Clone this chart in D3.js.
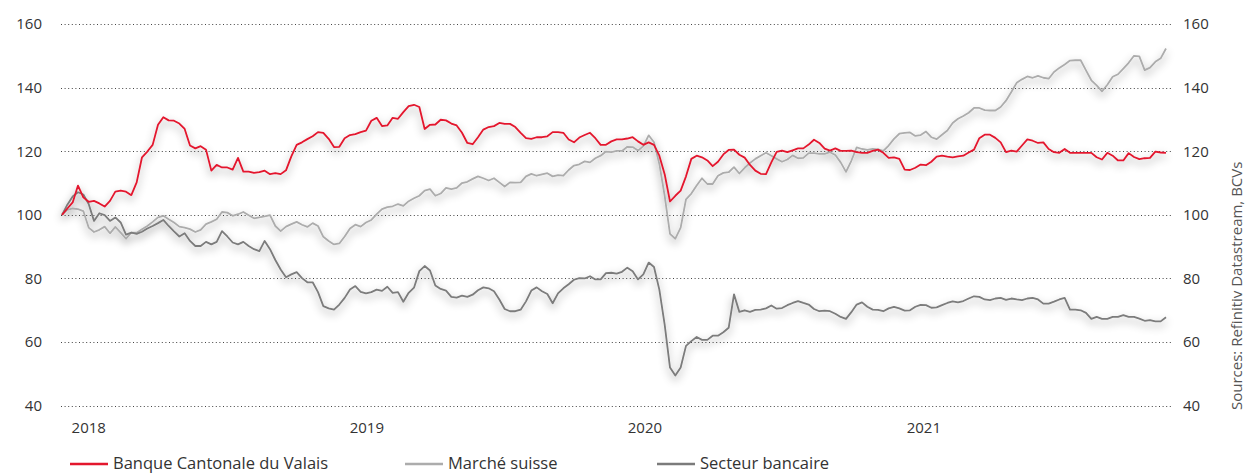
<!DOCTYPE html>
<html>
<head>
<meta charset="utf-8">
<script src="https://cdnjs.cloudflare.com/ajax/libs/d3/7.8.5/d3.min.js"></script>
<style>
  html, body { margin: 0; padding: 0; background: #fff; }
  svg { display: block; font-family: "Open Sans", sans-serif; }
</style>
</head>
<body>
<div id="chart"></div>
<script>
// Weekly index values (base 100), starting end of December 2017
const startDate = new Date(2017, 11, 22);

const bcvValues = [
  100, 102, 103.9, 109.2, 105.5, 104.1, 104.4, 103.6, 102.6, 104.4,
  107.3, 107.6, 107.3, 106.2, 110.2, 118.1, 119.9, 122, 128.3, 130.7,
  129.7, 129.6, 128.7, 127, 121.8, 120.9, 121.6, 120.5, 113.9, 115.7,
  114.9, 114.9, 114.2, 117.9, 113.6, 113.6, 113.2, 113.4, 113.9, 112.8,
  113.1, 112.8,
  114, 118.4, 122, 122.8, 123.8, 124.7, 126, 125.8,
  123.9, 121.3, 121.4, 124.1, 125.1, 125.4, 126, 126.5, 129.6, 130.5,
  127.9, 128.1, 130.5, 130.2, 132.3, 134.2, 134.6, 133.9, 127, 128.3,
  128.4, 129.9, 129.7, 128.7, 128.1, 125.8, 122.6, 122.2, 124.4, 126.8,
  127.6, 127.9, 128.9, 128.6,
  128.6, 127.6, 125.8, 124.1, 123.9, 124.4, 124.4, 124.7, 126, 126,
  125.8, 123.7, 122.8, 124.3, 125.1, 125.8, 124.1, 122, 122, 123.1,
  123.7, 123.7, 124, 124.4, 123.1, 122, 122.8, 122, 118.6, 112.8,
  104.2, 106, 107.6, 112.1, 117.6, 118.6, 118.1, 117.1, 115.3, 116.7,
  119, 120.4, 120.5, 118.9, 118, 115.7, 113.9, 112.9, 112.8, 116.5,
  119.8, 120.2, 119.7, 120.3, 120.9, 120.9, 122.1, 123.6, 122.6, 120.8,
  120.2, 120.9, 120.1, 120.1, 120.2, 119.7, 119.5, 119.5, 120.1, 120.5,
  119.5, 117.9, 118.1, 117.6, 114.2, 114.1, 114.8, 115.8, 115.6, 116.7,
  118.3, 118.6, 118.3,
  118.1, 118.4, 118.6, 119.6, 120.5, 124.1, 125.2, 125.2, 124.2, 122.8,
  119.7, 120.2, 119.9, 121.8, 123.7, 123.3, 122.6, 122.8, 120.7, 119.7,
  119.5, 120.7, 119.5, 119.5, 119.5, 119.5, 119.5, 118.1, 117.4, 119.5,
  118.6, 117.1, 117.1, 119.4, 118.2, 117.5, 117.8, 117.9, 119.9, 119.6, 119.5
];

const marketValues = [
  100, 101.6, 102, 101.8, 101.2, 96, 94.6, 95.3, 96.3, 94.2,
  96.2, 94.4, 92.5, 94.4, 94.4, 95.5, 96.5, 97.8, 99.2, 99.7,
  98.6, 97.6, 96.3, 96, 95.5, 94.6, 95.3, 97.1, 97.8, 98.6,
  100.9, 100.7, 99.7, 100.2, 100.9, 99.9, 98.9, 99.2, 99.5, 99.9,
  96.5, 94.9,
  96.3, 97.1, 97.8, 96.9, 96.2, 97.4, 96.5, 93.1,
  91.8, 90.7, 91, 93.2, 95.7, 96.9, 96.3, 97.6, 98.4, 100.2,
  101.8, 102.4, 102.7, 103.4, 102.8, 104.3, 105.2, 106, 107.6, 108.1,
  106, 106.7, 108.5, 108.1, 108.5, 110, 110.4, 111.3, 112.1, 111.5,
  110.8, 111.5, 110.2, 108.9,
  110.2, 110.1, 110.2, 112.1, 112.9, 112.3, 112.7, 113.1, 112.1, 112.5,
  112.3, 114.1, 115.5, 115.9, 116.8, 116.5, 117.8, 118.6, 119.9, 119.7,
  120.1, 120.1, 121.4, 121.3, 120.2, 121.6, 125, 122.8, 116, 106,
  94, 92.5, 96, 104.9, 106.7, 109.2, 111.5, 109.7, 109.7, 112.3,
  113.2, 113.4, 115, 113, 114.8, 116.3, 117.6, 118.6, 119.5, 118.6,
  117.6, 116.7, 117.4, 118.7, 117.8, 117.9, 119.4, 119.4, 119.2, 119.2,
  119.7, 118.8, 116.5, 113.5, 117, 121.2, 120.7, 120.4, 120.7, 120.6,
  120.1, 121.8, 123.9, 125.5, 125.8, 125.9, 124.8, 125.1, 126.2, 124.4,
  123.8, 125.2, 126.5,
  128.9, 130.2, 131.1, 132.1, 133.6, 133.6, 132.9, 132.8, 132.8, 133.9,
  135.9, 138.6, 141.5, 142.6, 143.5, 143.1, 143.7, 143.1, 142.8, 144.9,
  146.2, 147.3, 148.5, 148.6, 148.6, 145.4, 142.3, 140.7, 138.8, 140.9,
  143.4, 144.2, 146, 147.8, 150, 149.8, 145.5, 146.3, 148.1, 149.2, 152.3
];

const bankValues = [
  100, 103.2, 105.8, 107.1, 106.4, 103.4, 98.1, 100.5, 99.9, 98.1,
  99.2, 97.6, 93.8, 94.4, 94, 94.7, 95.7, 96.5, 97.4, 98.4,
  96.5, 94.8, 93.2, 94.2, 91.8, 90.2, 90.2, 91.5, 90.7, 91.5,
  94.9, 93.2, 91.3, 90.7, 91.5, 90.2, 89.2, 88.6, 91.8, 89.2,
  85.8, 82.8,
  80.4, 81.3, 82, 80.1, 78.8, 78.8, 75.7, 71.3,
  70.6, 70.2, 71.8, 73.9, 76.5, 77.6, 75.8, 75.3, 75.7, 76.5,
  76.1, 77.4, 75.5, 75.7, 72.7, 75.5, 77.1, 82.3, 83.9, 82.5,
  77.8, 76.7, 76.2, 74.2, 74, 74.6, 74.2, 74.9, 76.3, 77.2,
  76.9, 76, 73.4, 70.4,
  69.7, 69.7, 70.2, 72.8, 76.2, 77.2, 76, 75.1, 72.2, 75.3,
  76.9, 78.2, 79.6, 80.1, 80, 80.7, 79.7, 79.7, 81.7, 81.8,
  81.5, 82.1, 83.4, 82.3, 79.7, 81.3, 85, 83.6, 76.5, 65.5,
  52, 49.5, 52, 58.8, 60.3, 61.6, 60.7, 60.7, 62, 62,
  63.1, 64.5, 75, 69.5, 70, 69.5, 70.1, 70.2, 70.6, 71.5,
  70.5, 70.7, 71.6, 72.3, 72.9, 72.3, 71.8, 70.4, 69.7, 69.9,
  69.7, 68.9, 67.9, 67.3, 69.4, 71.8, 72.5, 71.1, 70.2, 70.1,
  69.7, 70.6, 71.1, 70.6, 69.9, 70, 71.1, 71.7, 71.6, 70.8,
  70.9, 71.6, 72.3,
  72.8, 72.5, 72.9, 73.7, 74.4, 74.2, 73.4, 73.2, 73.7, 73.9,
  73.3, 73.7, 73.4, 73.2, 73.7, 73.9, 73.4, 72.1, 72.1, 72.7,
  73.4, 73.9, 70.2, 70.2, 70, 69.2, 67.3, 67.9, 67.3, 67.3,
  67.9, 67.9, 68.5, 67.9, 67.9, 67.4, 66.7, 66.9, 66.5, 66.5, 67.8
];

const seriesNames = ["Banque Cantonale du Valais", "Marché suisse", "Secteur bancaire"];
const seriesColors = ["#e3172d", "#acacac", "#7b7b7b"];
const yTicks = [40, 60, 80, 100, 120, 140, 160];
const yearLabels = ["2018", "2019", "2020", "2021"];
const sourceText = "Sources: Refinitiv Datastream, BCVs";

const W = 1245, H = 474;

const svg = d3.select("#chart")
  .append("svg")
  .attr("width", W)
  .attr("height", H);

// soft grey shadow under the lines
const defs = svg.append("defs");
const filter = defs.append("filter")
  .attr("id", "shadow")
  .attr("x", "-5%").attr("y", "-20%")
  .attr("width", "110%").attr("height", "140%");
filter.append("feDropShadow")
  .attr("dx", 0)
  .attr("dy", 4)
  .attr("stdDeviation", 4)
  .attr("flood-color", "#000")
  .attr("flood-opacity", 0.42);

const dates = bcvValues.map((d, i) => d3.timeDay.offset(startDate, i * 7));

const x = d3.scaleTime()
  .domain([dates[0], dates[dates.length - 1]])
  .range([62, 1166]);

const y = d3.scaleLinear()
  .domain([40, 160])
  .range([405.7, 24]);

// dotted grid lines
svg.append("g")
  .selectAll("line")
  .data(yTicks)
  .join("line")
    .attr("x1", 61)
    .attr("x2", 1173)
    .attr("y1", d => Math.round(y(d)) + 0.5)
    .attr("y2", d => Math.round(y(d)) + 0.5)
    .attr("stroke", "#444")
    .attr("stroke-width", 1)
    .attr("stroke-dasharray", "1 2.6");

// left and right axis labels
const leftAxis = svg.append("g")
  .attr("transform", "translate(42,0)")
  .call(d3.axisLeft(y).tickValues(yTicks).tickSize(0).tickPadding(0));
const rightAxis = svg.append("g")
  .attr("transform", "translate(1183,0)")
  .call(d3.axisRight(y).tickValues(yTicks).tickSize(0).tickPadding(0));
[leftAxis, rightAxis].forEach(a => {
  a.select(".domain").remove();
  a.selectAll("text")
    .attr("font-family", "'Open Sans', sans-serif")
    .attr("font-size", 15)
    .attr("fill", "#333");
});

// year labels
svg.append("g")
  .selectAll("text")
  .data(yearLabels)
  .join("text")
    .attr("x", d => x(new Date(+d, 0, 1)) + 2)
    .attr("y", 433)
    .attr("font-size", 15)
    .attr("fill", "#333")
    .text(d => d);

// lines
const series = [
  {name: seriesNames[1], color: seriesColors[1], values: marketValues},
  {name: seriesNames[2], color: seriesColors[2], values: bankValues},
  {name: seriesNames[0], color: seriesColors[0], values: bcvValues}
];

const line = d3.line()
  .x((d, i) => x(dates[i]))
  .y(d => y(d));

svg.append("g")
  .attr("filter", "url(#shadow)")
  .selectAll("path")
  .data(series)
  .join("path")
    .attr("d", d => line(d.values))
    .attr("fill", "none")
    .attr("stroke", d => d.color)
    .attr("stroke-width", 1.8)
    .attr("stroke-linejoin", "round");

// legend
const legendX = [70, 405, 657];
const legend = svg.append("g")
  .selectAll("g")
  .data(seriesNames)
  .join("g")
    .attr("transform", (d, i) => `translate(${legendX[i]},464)`);

legend.append("line")
  .attr("x1", 0)
  .attr("x2", 38)
  .attr("stroke", (d, i) => seriesColors[i])
  .attr("stroke-width", 2.5);

legend.append("text")
  .attr("x", 43)
  .attr("y", 4.5)
  .attr("font-size", 16.5)
  .attr("fill", "#333")
  .text(d => d);

// source note, vertical on the right
svg.append("text")
  .attr("transform", "translate(1242,410) rotate(-90)")
  .attr("font-size", 15)
  .attr("fill", "#555")
  .text(sourceText);
</script>
</body>
</html>
